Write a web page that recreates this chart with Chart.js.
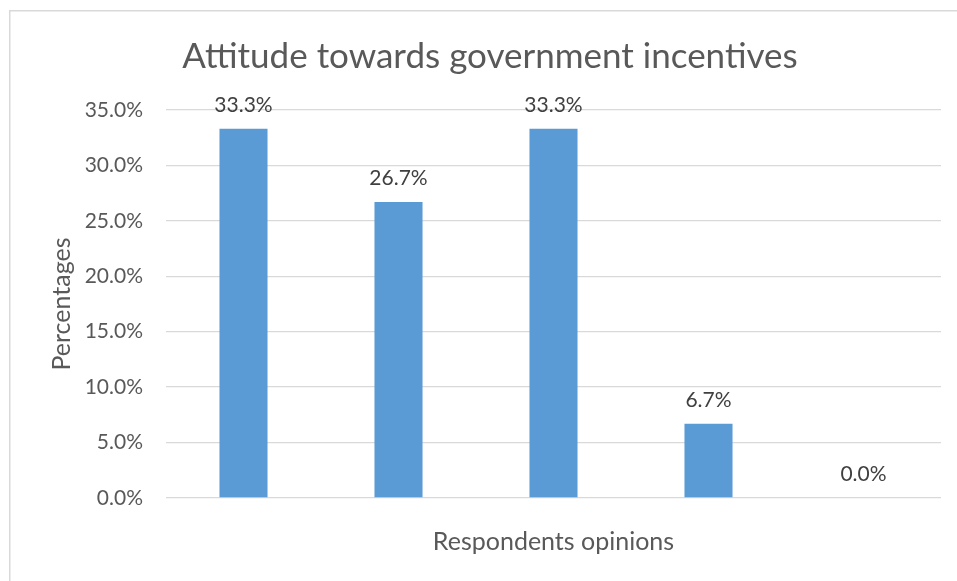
<!DOCTYPE html>
<html>
<head>
<meta charset="utf-8">
<script src="https://cdn.jsdelivr.net/npm/chart.js@4/dist/chart.umd.min.js"></script>
<style>
  html, body { margin: 0; padding: 0; background: #ffffff; overflow: hidden; }
  #wrap { position: absolute; left: 0; top: 0; width: 980px; height: 581px; }
</style>
</head>
<body>
<div id="wrap"><canvas id="c"></canvas></div>
<script>
const chartTitle = 'Attitude towards government incentives';
const xAxisTitle = 'Respondents opinions';
const yAxisTitle = 'Percentages';
const categories = ['', '', '', '', ''];
const percentages = [33.3, 26.7, 33.3, 6.7, 0.0];
const yMin = 0, yMax = 35, yStep = 5;

const FONT = 'Lato, "Open Sans", sans-serif';

const frame = {
  id: 'frame',
  beforeDraw(chart) {
    const ctx = chart.ctx;
    ctx.save();
    ctx.fillStyle = '#ffffff';
    ctx.fillRect(0, 0, chart.width, chart.height);
    ctx.strokeStyle = '#d9d9d9';
    ctx.lineWidth = 1.5;
    ctx.strokeRect(9.75, 10.75, chart.width + 20, chart.height + 20);
    ctx.restore();
  }
};

const dataLabels = {
  id: 'dataLabels',
  afterDatasetsDraw(chart) {
    const ctx = chart.ctx;
    const meta = chart.getDatasetMeta(0);
    ctx.save();
    ctx.font = '21px ' + FONT;
    ctx.fillStyle = '#404040';
    ctx.textAlign = 'center';
    ctx.textBaseline = 'alphabetic';
    meta.data.forEach((bar, i) => {
      const v = chart.data.datasets[0].data[i];
      ctx.fillText(v.toFixed(1) + '%', bar.x, bar.y - 17);
    });
    ctx.restore();
  }
};

new Chart(document.getElementById('c'), {
  type: 'bar',
  data: {
    labels: categories,
    datasets: [{
      data: percentages,
      backgroundColor: '#5b9bd5',
      borderWidth: 0,
      barPercentage: 0.31,
      categoryPercentage: 1.0
    }]
  },
  options: {
    responsive: true,
    maintainAspectRatio: false,
    animation: false,
    events: [],
    layout: { padding: 0 },
    plugins: {
      legend: { display: false },
      tooltip: { enabled: false },
      title: {
        display: true,
        text: chartTitle,
        color: '#595959',
        font: { family: FONT, size: 35, weight: 'normal' },
        padding: { top: 35.6, bottom: 32.4 }
      }
    },
    scales: {
      x: {
        grid: { display: false, drawTicks: false },
        border: { display: false },
        ticks: { display: false },
        title: {
          display: true,
          text: xAxisTitle,
          color: '#595959',
          font: { family: FONT, size: 25 },
          padding: { top: 0, bottom: 24 }
        },
        afterFit(s) { s.height = 83; }
      },
      y: {
        min: yMin,
        max: yMax,
        ticks: {
          stepSize: yStep,
          color: '#595959',
          font: { family: FONT, size: 21 },
          padding: 23,
          callback: v => v.toFixed(1) + '%'
        },
        grid: { color: '#d9d9d9', lineWidth: 1.3, drawTicks: false },
        border: { display: false },
        title: {
          display: true,
          text: yAxisTitle,
          color: '#595959',
          font: { family: FONT, size: 25 },
          padding: { top: 47, bottom: 0 }
        },
        afterFit(s) { s.width = 166; }
      },
      yRight: {
        position: 'right',
        display: true,
        grid: { display: false, drawTicks: false },
        border: { display: false },
        ticks: { display: false },
        afterFit(s) { s.width = 39; }
      }
    }
  },
  plugins: [frame, dataLabels]
});
</script>
</body>
</html>
